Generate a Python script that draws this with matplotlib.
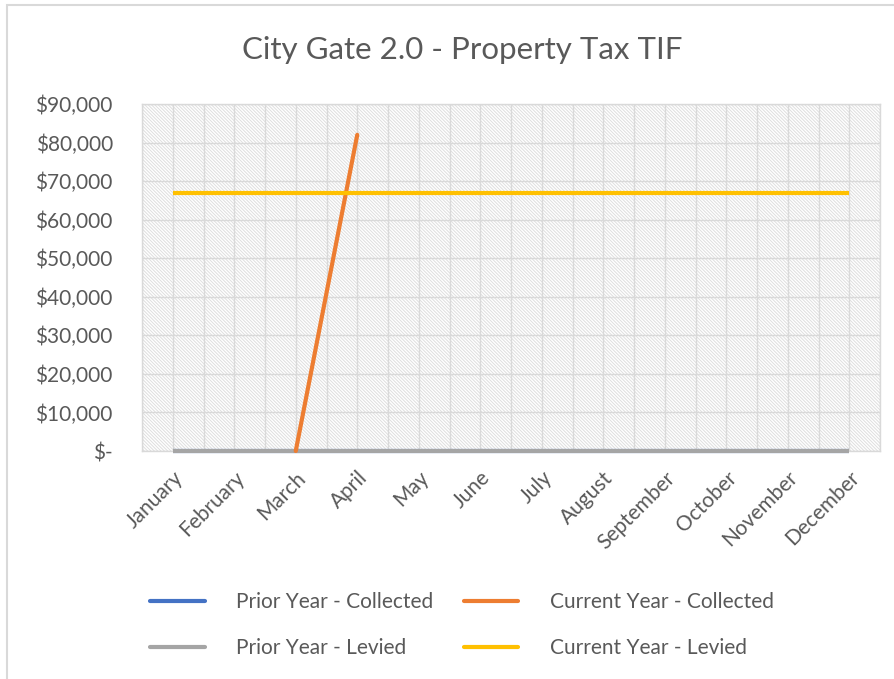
import matplotlib
matplotlib.use("Agg")
import matplotlib.pyplot as plt
from matplotlib.patches import Rectangle
from matplotlib.lines import Line2D
from matplotlib.ticker import FuncFormatter, MultipleLocator

months = ["January", "February", "March", "April", "May", "June", "July",
          "August", "September", "October", "November", "December"]
prior_collected = [0] * 12
current_collected = [None, None, 0, 82000] + [None] * 8
prior_levied = [0] * 12
current_levied = [67000] * 12

title = "City Gate 2.0 - Property Tax TIF"
text_color = "#595959"
grid_color = "#D9D9D9"

plt.rcParams['font.family'] = ['Lato', 'DejaVu Sans']
plt.rcParams['hatch.linewidth'] = 0.7

fig = plt.figure(figsize=(8.94, 6.79), dpi=100)
# outer chart border
fig.add_artist(Rectangle((7 / 894, -0.05), 1.2, 1.05 - 5 / 679, transform=fig.transFigure,
                         fill=False, edgecolor=grid_color, lw=1.5))

ax = fig.add_axes([142 / 894, 1 - 451 / 679, (880 - 142) / 894, (451 - 104) / 679])
ax.set_facecolor("white")
ax.add_patch(Rectangle((0, 0), 1, 1, transform=ax.transAxes, facecolor="none",
                       edgecolor="#DEDEDE", hatch="\\" * 10, lw=0, zorder=0))

x = list(range(len(months)))
cc = [(i, v) for i, v in zip(x, current_collected) if v is not None]
ax.plot(x, prior_collected, color="#4472C4", lw=3, solid_capstyle="butt",
        zorder=3, clip_on=False)
ax.plot(x, prior_levied, color="#A5A5A5", lw=3, solid_capstyle="butt", zorder=3, clip_on=False)
ax.plot([p[0] for p in cc], [p[1] for p in cc], color="#ED7D31", lw=3,
        solid_capstyle="round", zorder=4, clip_on=False)
ax.plot(x, current_levied, color="#FFC000", lw=3, solid_capstyle="butt", zorder=5)

ax.set_xlim(-0.5, 11.5)
ax.set_ylim(0, 90000)
ax.set_xticks(x)
ax.set_xticklabels(months, rotation=45, ha="right", rotation_mode="anchor")
ax.xaxis.set_minor_locator(MultipleLocator(1, offset=0.5))
ax.yaxis.set_major_locator(MultipleLocator(10000))
ax.yaxis.set_major_formatter(FuncFormatter(lambda v, p: "$-" if v == 0 else "${:,.0f}".format(v)))
ax.grid(True, which="both", axis="x", color=grid_color, lw=1, zorder=1)
ax.grid(True, which="major", axis="y", color=grid_color, lw=1, zorder=1)
ax.set_axisbelow(True)
ax.tick_params(axis="both", which="both", length=0, labelsize=15, colors=text_color)
ax.tick_params(axis="y", pad=21)
ax.tick_params(axis="x", pad=12)
for s in ax.spines.values():
    s.set_color(grid_color)
    s.set_linewidth(1)

fig.text(462 / 894, 1 - 50 / 679, title, ha="center", va="center", fontsize=22.5,
         color=text_color)

handles = [
    Line2D([], [], color="#4472C4", lw=3, solid_capstyle="round"),
    Line2D([], [], color="#A5A5A5", lw=3, solid_capstyle="round"),
    Line2D([], [], color="#ED7D31", lw=3, solid_capstyle="round"),
    Line2D([], [], color="#FFC000", lw=3, solid_capstyle="round"),
]
labels = ["Prior Year - Collected", "Prior Year - Levied",
          "Current Year - Collected", "Current Year - Levied"]
leg = fig.legend(handles, labels, loc="center", bbox_to_anchor=(462 / 894, 1 - 625 / 679),
                 ncol=2, frameon=False, fontsize=15, handlelength=2.6, handletextpad=1.5,
                 columnspacing=1.5, labelspacing=1.25)
for t in leg.get_texts():
    t.set_color(text_color)

fig.savefig("out.png", dpi=100)
